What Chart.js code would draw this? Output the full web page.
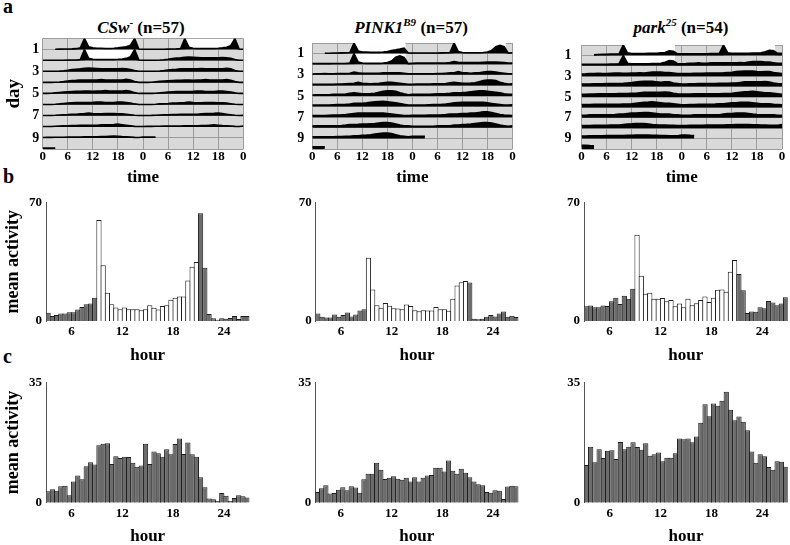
<!DOCTYPE html>
<html>
<head>
<meta charset="utf-8">
<script src="https://cdn.jsdelivr.net/npm/chart.js@4.4.1/dist/chart.umd.min.js"></script>
<style>
  html, body { margin: 0; padding: 0; background: #fff; }
  #fig { position: relative; width: 790px; height: 545px; overflow: hidden;
         font-family: 'Liberation Serif', 'Times New Roman', serif; font-weight: bold; color: #000; }
  #fig canvas { position: absolute; }
  .lbl { position: absolute; font-size: 20px; line-height: 20px; }
  .ttl { position: absolute; font-size: 17px; line-height: 17px; white-space: nowrap; transform: translateX(-50%); }
  .ttl sup { font-size: 11px; line-height: 0; vertical-align: 7px; }
</style>
</head>
<body>
<div id="fig">
  <div class="lbl" style="left:3px;top:-4px">a</div>
  <div class="lbl" style="left:3px;top:166px">b</div>
  <div class="lbl" style="left:3px;top:346px">c</div>
  <div class="ttl" style="left:141px;top:19px"><i>CSw</i><sup>-</sup> (n=57)</div>
  <div class="ttl" style="left:411px;top:19px"><i>PINK1<sup>B9</sup></i> (n=57)</div>
  <div class="ttl" style="left:681px;top:19px"><i>park<sup>25</sup></i> (n=54)</div>
  <canvas id="a1"></canvas><canvas id="a2"></canvas><canvas id="a3"></canvas>
  <canvas id="b1"></canvas><canvas id="b2"></canvas><canvas id="b3"></canvas>
  <canvas id="c1"></canvas><canvas id="c2"></canvas><canvas id="c3"></canvas>
</div>
<script>
// ---- actogram data: one array per day, activity at each clock hour (0-23), 10 = a full row
const csDays = [
  [null, null, null, 0.3, 0.4, 0.5, 0.5, 0.6, 0.8, 1.5, 10, 2.5, 1.5, 1.2, 1.2, 1, 1, 1.2, 1.5, 2, 2.5, 4, 10, 0.5],
  [0.3, 0.3, 0.3, 0.3, 0.3, 0.3, 0.4, 0.5, 0.6, 1, 10, 2, 1.2, 1, 1, 1, 1, 1, 1.2, 1.5, 2, 3.5, 10, 0.5],
  [0.3, 0.3, 0.3, 0.3, 0.5, 0.8, 1.2, 1.8, 2.2, 2.5, 3, 3.2, 3, 2.8, 2.5, 2.5, 2.5, 2.5, 2.5, 2.8, 2.5, 2, 1, 0.3],
  [0.3, 0.3, 0.3, 0.4, 0.6, 1, 1.5, 2, 2.2, 2.5, 2.5, 2.5, 2.5, 2.5, 2.8, 2.5, 2.5, 2.5, 2.5, 2.5, 3, 2.5, 1, 0.3],
  [0.3, 0.3, 0.4, 0.8, 1.2, 1.5, 1.8, 2, 2.2, 2.2, 2.5, 2.5, 2.2, 2.5, 2.5, 2.8, 2.5, 2.5, 2.5, 2.5, 2.8, 2.2, 1, 0.3],
  [0.3, 0.3, 0.3, 0.5, 0.8, 1.2, 1.5, 1.8, 2, 2, 2, 2, 2.2, 2.5, 2.5, 2, 2, 2, 2.5, 2.5, 2, 1.5, 0.8, 0.3],
  [0.3, 0.3, 0.3, 0.5, 0.8, 1, 1.2, 1.5, 1.5, 1.8, 2, 2.5, 2, 1.8, 1.8, 2, 2, 2, 1.8, 1.8, 1.5, 1, 0.5, 0.3],
  [0.3, 0.3, 0.4, 0.6, 0.8, 1, 1, 1.2, 1.2, 1.5, 1.5, 1.5, 1.5, 1.5, 1.8, 2, 2, 2.2, 2.5, 2, 1.5, 1, 0.5, 0.3],
  [0.4, 0.5, 0.5, 0.6, 0.6, 0.7, 0.8, 0.8, 0.8, 0.8, 1, 1, 1, 1, 1.2, 1.2, 1.5, 1.8, 1.5, 1.2, 1, 0.8, 0.5, 0.4],
  [0.8, 0.8, 0.8, 0.8]
];
const pinkDays = [
  [null, null, null, 0.3, 0.4, 0.5, 0.6, 0.7, 0.8, 1, 10, 2.5, 1.5, 1.5, 1.2, 1.2, 1.2, 1.5, 2, 2.8, 3.5, 4.3, 5.2, 0.5],
  [0.5, 0.5, 0.5, 0.5, 0.5, 0.6, 0.6, 0.7, 0.8, 1, 10, 2, 1, 0.8, 0.8, 0.8, 0.8, 1, 1.5, 3, 6.5, 7.8, 6.5, 0.5],
  [0.8, 1, 1, 1.2, 1, 1, 1.2, 1.2, 1.2, 1.5, 2.5, 1.8, 1.5, 1.5, 1.5, 1.5, 1.5, 1.8, 2, 2, 2, 1.8, 1.5, 1],
  [1, 1, 1, 1, 1, 1, 1.2, 1.2, 1.5, 1.8, 2, 3, 2, 1.8, 1.5, 1.8, 2, 2.5, 3, 3, 2.5, 2, 1.5, 1],
  [1, 1.2, 1.2, 1.2, 1.2, 1.5, 1.5, 1.5, 1.8, 2.5, 3, 2.5, 2, 2, 2.2, 2.5, 3.5, 4.5, 5, 5, 4.5, 3, 2, 1.2],
  [1.5, 1.5, 1.5, 1.5, 1.5, 1.8, 2, 2, 2.2, 2.5, 3, 3, 3.2, 3.5, 4, 4.5, 4.8, 5, 4.5, 4, 3.5, 3, 2.2, 1.5],
  [1.5, 1.5, 1.5, 1.5, 1.8, 2, 2, 2.2, 2.5, 3, 3.5, 3.8, 4, 4, 4, 4, 4, 4, 3.5, 3, 2.5, 2, 1.5, 1.5],
  [1.8, 1.8, 1.8, 1.8, 2, 2, 2, 2.2, 2.5, 3, 3, 3.2, 3.5, 3.5, 3.8, 4, 4.5, 5, 5, 4.5, 3.5, 2.5, 2, 1.8],
  [1.5, 1.5, 1.5, 1.5, 1.5, 1.5, 1.8, 1.8, 2, 2, 2.5, 2.5, 3, 3.2, 3.5, 4, 4.5, 5, 5, 4.5, 3.5, 2.5, 2, 1.5],
  [2, 2, 2, 2]
];
const parkDays = [
  [null, null, null, 0.5, 0.8, 1, 1, 1.2, 1.3, 1.5, 10, 2.5, 1.8, 1.8, 1.8, 1.8, 2, 2, 2, 2.5, 2.8, 4.5, 4, 1.5],
  [1.5, 1.5, 1.5, 1.5, 1.5, 1.5, 1.5, 1.8, 1.8, 2, 10, 2.5, 2, 2, 2, 2, 2, 2.2, 2.2, 2.5, 3.5, 5, 4.5, 2],
  [2, 2.2, 2.5, 2.5, 2.8, 2.5, 2.5, 2.8, 3, 3, 2.8, 2.8, 3, 3, 3.2, 3, 3.5, 4, 4, 4, 3.5, 3.5, 3, 2.5],
  [2.5, 2.5, 2.5, 2.8, 2.8, 2.8, 3, 3, 3, 3, 3.2, 3.5, 3.8, 4.5, 4.8, 5, 5, 5, 4.5, 4.2, 4.5, 4.5, 3.5, 3],
  [2.5, 2.5, 2.8, 2.8, 3, 3, 3, 3, 3, 3.2, 3.2, 3.2, 3.5, 3.5, 4, 4.5, 4.5, 4.5, 4.5, 4.5, 4.8, 4.5, 3.5, 3],
  [2.8, 2.8, 2.8, 3, 3, 3, 3, 3, 3, 3, 3.2, 3.2, 3.5, 4, 4.5, 5, 5.2, 5.5, 5, 4.5, 4, 4, 3.5, 3],
  [2.5, 2.5, 2.8, 2.8, 3, 3, 3, 3, 3.2, 3.5, 3.5, 4, 4.5, 4.5, 4.8, 5, 5, 4.5, 4, 3.5, 3.5, 3.5, 3, 2.8],
  [2.5, 2.5, 2.5, 2.8, 2.8, 2.8, 2.8, 3, 3, 3, 3.5, 4, 4.2, 4.5, 4.5, 4.5, 4, 3.5, 3.2, 3, 3, 2.8, 2.8, 2.5],
  [2.5, 2.5, 2.8, 2.8, 2.8, 2.8, 3, 3, 3, 3, 3, 3.2, 3.2, 3.5, 3.5, 3.5, 3.5, 3.2, 3.2, 3, 3, 2.8, 2.8, 2.8],
  [3.5, 3.5, 3.2, 3]
];
const ldDays = [1, 2];          // days run in light:dark
const lightsOn = 10, lightsOff = 22.4;
const clockTicks = [0, 6, 12, 18, 24, 30, 36, 42, 48];
const dayTicks = [1, 3, 5, 7, 9];

// ---- mean activity per 30 min bin, hour 3 to 27
const binStart = 3, binSize = 0.5;
const hourTicks = [6, 12, 18, 24];
const litHours = [9, 21];
const csLD = [4.8, 2.9, 3.5, 4.5, 4.5, 5.2, 5.2, 6.8, 8.3, 9.9, 10.3, 13.8,
  59.7, 33, 16.7, 9.9, 8, 7, 8, 7, 7, 7, 6.4, 7,
  9.3, 7.8, 6.8, 8.9, 9.3, 12.6, 13.8, 14.5, 14.5, 23.9, 32, 34.9,
  63.6, 31.4, 4.1, 1.6, 0.8, 1.6, 1.4, 1.7, 2.9, 1.2, 2.9, 2.9];
const pinkLD = [4.5, 2.5, 2.1, 2.1, 3.9, 2.5, 3.5, 5.0, 2.7, 3.9, 6.2, 7.0,
  37.4, 18.6, 9.3, 7.8, 10.7, 9.0, 7.6, 7.4, 7.0, 9.7, 8.9, 6.4,
  5.8, 6.4, 6.2, 6.2, 8.3, 7.0, 7.0, 6.0, 13.2, 20.9, 22.9, 23.7,
  22.7, 1.4, 1.0, 1.4, 2.5, 3.5, 2.7, 4.5, 5.6, 2.5, 3.1, 2.3];
const parkLD = [8.7, 9.1, 8.1, 8.1, 9.1, 8.9, 11.6, 13.8, 10.1, 14.9, 13.2, 19,
  51, 26.8, 16.1, 16.7, 13.2, 13.2, 13.6, 11.6, 12.4, 8.7, 10.3, 8.1,
  13.2, 9.3, 10.5, 12.4, 14.5, 11.2, 13.8, 18.4, 18.6, 17.3, 29.1, 36.1,
  27.7, 18.2, 4.7, 5.6, 5.4, 8.1, 7.6, 11.8, 10.9, 9.3, 10.3, 14];
const csDD = [3.3, 3.9, 3.5, 4.8, 4.9, 2.2, 6.2, 7.9, 6.8, 10.6, 11.8, 11.1,
  16.7, 17.2, 17.3, 11.3, 13.5, 13.0, 13.4, 13.3, 11.6, 10.5, 10.8, 17.2,
  11.3, 14.9, 14.4, 13.4, 15.6, 14.1, 17.1, 18.7, 14.2, 17.5, 14.1, 13.4,
  7.4, 4.5, 1.2, 1.0, 0.6, 2.8, 2.0, 0.5, 1.4, 2.2, 1.9, 1.5];
const pinkDD = [3.1, 4.2, 5.1, 2.7, 2.8, 3.8, 4.5, 3.6, 4.8, 4.4, 2.9, 6.8,
  8.4, 8.4, 11.6, 9.6, 6.9, 7.3, 7.7, 7.0, 6.7, 7.3, 6.2, 7.4,
  6.2, 7.3, 7.9, 8.1, 10.2, 10.2, 9.1, 12.3, 9.3, 8.4, 9.9, 8.7,
  7.4, 6.2, 5.4, 5.1, 3.1, 2.9, 3.6, 3.5, 1.1, 4.7, 4.9, 4.8];
const parkDD = [11.0, 16.3, 11.8, 15.6, 13.0, 15.1, 15.3, 12.7, 17.7, 15.6, 16.3, 17.6,
  16.2, 15.4, 17.3, 13.7, 14.1, 14.6, 12.1, 13.1, 13.1, 14.4, 18.7, 18.5,
  18.7, 17.6, 19.3, 23.3, 28.7, 25.2, 28.9, 28.2, 29.7, 32.3, 27.1, 24.0,
  25.1, 23.6, 21.1, 14.9, 11.6, 14.1, 13.5, 10.4, 9.6, 12.1, 11.9, 10.5];

const serif = "'Liberation Serif', 'Times New Roman', serif";
const tickFont = { family: serif, size: 13, weight: 'bold', lineHeight: 1 };
const gridGray = '#9c9c9c';
const barGray = '#6c6c6c';

// grey panel background behind the actograms
Chart.register({
  id: 'panelBg',
  beforeDraw(chart, args, opts) {
    if (!opts.color) return;
    const { ctx, chartArea: a } = chart;
    ctx.save();
    ctx.fillStyle = opts.color;
    ctx.fillRect(a.left, a.top, a.right - a.left, a.bottom - a.top);
    ctx.restore();
  }
});

function place(id, b) {
  const c = document.getElementById(id);
  c.width = b.w; c.height = b.h;
  c.style.left = b.cx + 'px'; c.style.top = b.cy + 'px';
  return c;
}

// double plotted row r: day r on the left, day r+1 on the right
function rowPoints(days, r) {
  const pts = [];
  [0, 1].forEach(half => {
    const d = days[r + half];
    if (!d) return;
    d.forEach((v, h) => pts.push({ x: half * 24 + h, y: v === null ? null : r + 1 - Math.min(v, 10) / 10 }));
  });
  const next = days[r + 2];
  if (next && next[0] !== null) pts.push({ x: 48, y: r + 1 - next[0] / 10 });
  return pts;
}

function actogram(id, days, b, showTitle) {
  const datasets = [];
  days.forEach((d, r) => {
    datasets.push({ data: rowPoints(days, r), fill: { value: r + 1 }, backgroundColor: '#000',
      borderColor: '#000', borderWidth: 1.6, pointRadius: 0, order: 1 });
    [0, 1].forEach(half => {
      if (!ldDays.includes(r + half + 1)) return;
      datasets.push({ data: [{ x: half * 24 + lightsOn, y: r }, { x: half * 24 + lightsOff, y: r }],
        fill: { value: r + 1 }, backgroundColor: '#fff', borderWidth: 0, pointRadius: 0, order: 2 });
    });
  });
  new Chart(place(id, b), {
    type: 'line',
    data: { datasets },
    options: {
      responsive: false, animation: false, events: [],
      layout: { padding: { left: 0, bottom: 0, top: b.T - b.cy, right: b.cx + b.w - b.R } },
      plugins: { legend: { display: false }, tooltip: { enabled: false }, panelBg: { color: '#d9d9d9' } },
      scales: {
        x: {
          type: 'linear', min: 0, max: 48,
          afterBuildTicks: s => { s.ticks = clockTicks.map(v => ({ value: v })); },
          afterFit: s => { s.height = b.cy + b.h - b.B; },
          ticks: { font: tickFont, color: '#000', padding: 1.5, maxRotation: 0, autoSkip: false, callback: v => v % 24 },
          grid: { color: gridGray, drawTicks: false }, border: { display: false },
          title: { display: true, text: 'time', color: '#000', font: { family: serif, size: 17, weight: 'bold', lineHeight: 1 }, padding: { top: 0, bottom: 7.5 } }
        },
        y: {
          type: 'linear', reverse: true, min: 0, max: 10,
          afterBuildTicks: s => { s.ticks = dayTicks.map(v => ({ value: v })); },
          afterFit: s => { s.width = b.L - b.cx; },
          ticks: { font: { family: serif, size: 14, weight: 'bold', lineHeight: 1 }, color: '#000', padding: b.yPad, autoSkip: false },
          grid: { display: false, drawTicks: false }, border: { display: false },
          title: { display: showTitle, text: 'day', color: '#000', font: { family: serif, size: 19, weight: 'bold', lineHeight: 1 }, padding: { top: 4.5, bottom: 0 } }
        },
        rows: {
          type: 'linear', position: 'left', reverse: true, min: 0, max: 10,
          afterBuildTicks: s => { s.ticks = days.map((d, i) => ({ value: i })).concat([{ value: days.length }]); },
          afterFit: s => { s.width = 0; },
          ticks: { display: false }, grid: { color: gridGray, drawTicks: false }, border: { display: false }
        }
      }
    }
  });
}

function barPanel(id, values, b, yMax, yStep, lit, showTitle) {
  const colors = values.map((v, i) => {
    const h = binStart + i * binSize;
    return lit && h >= lit[0] && h < lit[1] ? '#ffffff' : barGray;
  });
  new Chart(place(id, b), {
    type: 'bar',
    data: { datasets: [{
      data: values.map((v, i) => ({ x: binStart + (i + 0.5) * binSize, y: v })),
      backgroundColor: colors, borderColor: '#1e1e1e', borderWidth: 1,
      barPercentage: 1.24, categoryPercentage: 1
    }] },
    options: {
      responsive: false, animation: false, events: [],
      layout: { padding: { left: 0, bottom: 0, top: b.T - b.cy, right: b.cx + b.w - b.R } },
      plugins: { legend: { display: false }, tooltip: { enabled: false } },
      scales: {
        x: {
          type: 'linear', min: binStart, max: binStart + values.length * binSize, offset: false,
          afterBuildTicks: s => { s.ticks = hourTicks.map(v => ({ value: v })); },
          afterFit: s => { s.height = b.cy + b.h - b.B; },
          ticks: { font: tickFont, color: '#000', padding: 4, maxRotation: 0, autoSkip: false },
          grid: { display: false, drawTicks: false }, border: { display: false },
          title: { display: true, text: 'hour', color: '#000', font: { family: serif, size: 17, weight: 'bold', lineHeight: 1 }, padding: { top: 0, bottom: b.titlePad } }
        },
        y: {
          min: 0, max: yMax,
          afterFit: s => { s.width = b.L - b.cx; },
          ticks: { stepSize: yStep, font: tickFont, color: '#000', padding: 4, autoSkip: false,
            callback: v => (v === 0 || v === yMax) ? v : '' },
          grid: { display: false, drawTicks: false }, border: { display: true, color: '#555', width: 1 },
          title: { display: showTitle, text: 'mean activity', color: '#000', font: { family: serif, size: 18, weight: 'bold', lineHeight: 1 }, padding: { top: 4.5, bottom: 0 } }
        }
      }
    }
  });
}

const acto = { cy: 28, h: 166, T: 36, B: 149 };
actogram('a1', csDays, Object.assign({ cx: 0, w: 252, L: 42.7, R: 243.3, yPad: 3.5 }, acto), true);
actogram('a2', pinkDays, Object.assign({ cx: 262, w: 256, L: 312.3, R: 512.5, yPad: 8 }, acto), false);
actogram('a3', parkDays, Object.assign({ cx: 530, w: 260, L: 581.5, R: 782, yPad: 10 }, acto), false);

const rowB = { cy: 192, h: 178, T: 200.7, B: 321, titlePad: 5.8 };
barPanel('b1', csLD, Object.assign({ cx: 0, w: 255, L: 46, R: 249.3 }, rowB), 70, 10, litHours, true);
barPanel('b2', pinkLD, Object.assign({ cx: 262, w: 262, L: 315.7, R: 518.3 }, rowB), 70, 10, litHours, false);
barPanel('b3', parkLD, Object.assign({ cx: 530, w: 260, L: 584, R: 787.7 }, rowB), 70, 10, litHours, false);

const rowC = { cy: 372, h: 173, T: 380.7, B: 502.7, titlePad: 0 };
barPanel('c1', csDD, Object.assign({ cx: 0, w: 255, L: 46, R: 249.3 }, rowC), 35, 5, null, true);
barPanel('c2', pinkDD, Object.assign({ cx: 262, w: 262, L: 315.3, R: 518.3 }, rowC), 35, 5, null, false);
barPanel('c3', parkDD, Object.assign({ cx: 530, w: 260, L: 584.3, R: 787.7 }, rowC), 35, 5, null, false);
</script>
</body>
</html>
